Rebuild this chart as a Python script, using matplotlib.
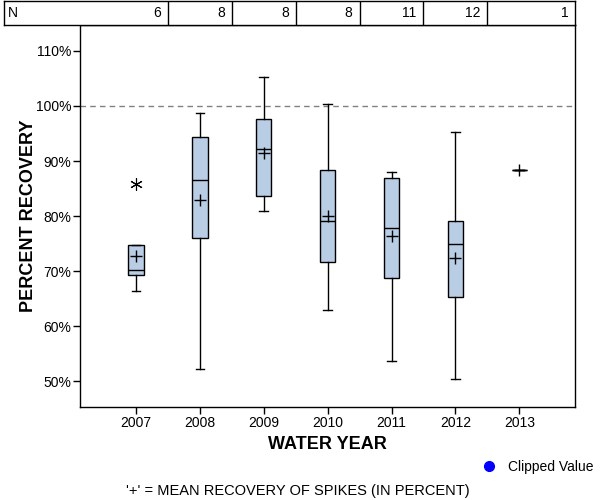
import matplotlib
matplotlib.use("Agg")
from matplotlib import pyplot as plt
from matplotlib.lines import Line2D

plt.rcParams['font.family'] = ['Liberation Sans', 'DejaVu Sans']

years = ['2007', '2008', '2009', '2010', '2011', '2012', '2013']
counts = [6, 8, 8, 8, 11, 12, 1]
q1 = [69.3, 76.0, 83.6, 71.6, 68.8, 65.3, 88.3]
medians = [70.3, 86.5, 92.2, 79.1, 77.8, 75.0, 88.3]
q3 = [74.7, 94.3, 97.6, 88.3, 87.0, 79.2, 88.3]
whis_lo = [66.4, 52.2, 81.0, 62.9, 53.7, 50.5, 88.3]
whis_hi = [74.7, 98.7, 105.2, 100.3, 88.1, 95.2, 88.3]
means = [72.7, 83.0, 91.5, 80.1, 76.3, 72.4, 88.3]
outliers = [[85.8], [], [], [], [], [], []]

box_color = "#B9CDE5"

stats = []
for i, yr in enumerate(years):
    stats.append(dict(label=yr, med=medians[i], q1=q1[i], q3=q3[i],
                      whislo=whis_lo[i], whishi=whis_hi[i],
                      mean=means[i], fliers=outliers[i]))

fig = plt.figure(figsize=(6, 5), dpi=100)
ax = fig.add_axes([80.3 / 600, 1 - 406.7 / 500, 495 / 600, 381.7 / 500])

ax.bxp(stats, positions=range(len(years)), widths=0.24, patch_artist=True,
       showmeans=True, showfliers=True,
       boxprops=dict(facecolor=box_color, edgecolor='black', linewidth=1),
       medianprops=dict(color='black', linewidth=1),
       whiskerprops=dict(color='black', linewidth=1),
       capprops=dict(color='black', linewidth=1),
       capwidths=0.135,
       meanprops=dict(marker='+', markeredgecolor='black', markersize=9, markeredgewidth=1),
       flierprops=dict(marker=(6, 2, 0), markeredgecolor='black', markersize=9, markeredgewidth=0.8))

ax.axhline(100, color='#808080', linestyle=(0, (4, 3)), linewidth=1, zorder=0)

ax.set_xlim(-0.872, 6.877)
ax.set_ylim(45.38, 114.71)
ax.set_yticks([50, 60, 70, 80, 90, 100, 110])
ax.set_yticklabels([f'{v}%' for v in [50, 60, 70, 80, 90, 100, 110]])
ax.set_xticks(range(len(years)))
ax.set_xticklabels(years)
ax.tick_params(axis='both', direction='out', length=5, width=1, labelsize=10, colors='black', pad=1.5)
for s in ax.spines.values():
    s.set_linewidth(1)

ax.set_xlabel('WATER YEAR', fontsize=13, fontweight='bold')
ax.set_ylabel('PERCENT RECOVERY', fontsize=13, fontweight='bold')
ax.xaxis.set_label_coords(0.5, -0.077)
ax.yaxis.set_label_coords(-0.0875, 0.5)

# N table across the top
tab = fig.add_axes([4 / 600, 1 - 25.3 / 500, 571.3 / 600, 24.3 / 500])
tab.set_xlim(-2.066, 6.877)
tab.set_ylim(0, 1)
tab.set_xticks([])
tab.set_yticks([])
for s in tab.spines.values():
    s.set_linewidth(1)
for i in range(len(years) - 1):
    tab.axvline(i + 0.5, color='black', linewidth=1)
tab.text(-2.0, 0.5, 'N', ha='left', va='center', fontsize=10)
right_edges = [i + 0.5 for i in range(len(years) - 1)] + [6.877]
for edge, n in zip(right_edges, counts):
    tab.text(edge - 0.11, 0.5, str(n), ha='right', va='center', fontsize=10)

fig.legend(handles=[Line2D([], [], marker='o', color='blue', linestyle='none', markersize=7)],
           labels=['Clipped Value'], loc='center right',
           bbox_to_anchor=(594 / 600, 1 - 467 / 500), frameon=False,
           handletextpad=0.4, fontsize=10, borderpad=0, borderaxespad=0)

fig.text(298 / 600, 1 - 491 / 500, "'+' = MEAN RECOVERY OF SPIKES (IN PERCENT)",
         ha='center', va='center', fontsize=10.5)

fig.savefig('out.png', dpi=100)
